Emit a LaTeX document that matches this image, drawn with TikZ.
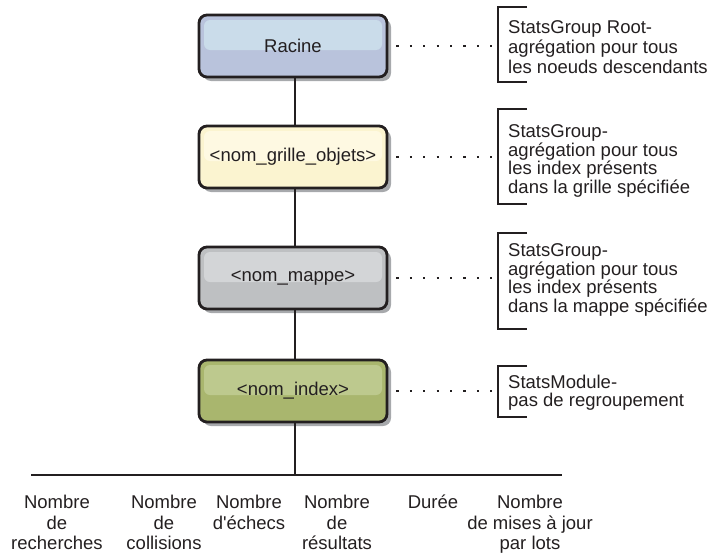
\documentclass[tikz,border=0pt]{standalone}
\usepackage{fontspec}
\setmainfont{Liberation Sans}
\usetikzlibrary{shadows,calc}
\definecolor{ink}{HTML}{231F20}
\definecolor{rootmain}{HTML}{B9C3DC}
\definecolor{roothl}{HTML}{CADCEA}
\definecolor{gridmain}{HTML}{FBF4D0}
\definecolor{gridhl}{HTML}{FEF9E2}
\definecolor{mapmain}{HTML}{BEC0C2}
\definecolor{maphl}{HTML}{D3D5D7}
\definecolor{idxmain}{HTML}{A9B66E}
\definecolor{idxhl}{HTML}{BDC98E}
\definecolor{shadowgrey}{HTML}{A7A9AC}
\begin{document}
\begin{tikzpicture}[x=1pt,y=-1pt,
  txt/.style={font=\fontsize{18.5}{20}\selectfont, text=ink},
  txtb/.style={font=\fontsize{18.5}{18.5}\selectfont, text=ink},
  txtc/.style={font=\fontsize{18.5}{20.5}\selectfont, text=ink},
  catbox/.style 2 args={draw=ink, line width=2.8pt, rounded corners=8pt,
    minimum width=188pt, minimum height=62pt, fill=#1, inner sep=0pt, txt,
    drop shadow={shadow xshift=4pt, shadow yshift=-4pt, fill=shadowgrey, opacity=1},
    path picture={\fill[#2, rounded corners=6pt]
      ($(path picture bounding box.north west)+(5pt,-5pt)$) rectangle
      ($(path picture bounding box.east)+(-5pt,-4pt)$);}},
  conn/.style={draw=ink, line width=2.3pt},
  dotlink/.style={draw=ink, line width=2.2pt, dash pattern=on 2.2pt off 11.2pt},
  brk/.style={draw=ink, line width=2.4pt},
  lbl/.style={txtc, anchor=north, align=center, inner sep=0pt},
  note/.style={anchor=north west, align=left, inner sep=0pt}
]
\useasboundingbox (0,0) rectangle (712,554);

% boxes
\node[catbox={rootmain}{roothl}] (root) at (293,46) {Racine};
\node[catbox={gridmain}{gridhl}] (grid) at (293,157) {<nom\_grille\_objets>};
\node[catbox={mapmain}{maphl}] (map) at (293,278) {<nom\_mappe>};
\node[catbox={idxmain}{idxhl}] (idx) at (293,391) {<nom\_index>};

% tree lines
\coordinate (j) at (295,475);
\coordinate (hl) at (31,475);
\coordinate (hr) at (562,475);
\draw[conn] ([xshift=2pt]root.south) -- ([xshift=2pt]grid.north);
\draw[conn] ([xshift=2pt]grid.south) -- ([xshift=2pt]map.north);
\draw[conn] ([xshift=2pt]map.south) -- ([xshift=2pt]idx.north);
\draw[conn] ([xshift=2pt]idx.south) -- (j);
\draw[conn] (hl) -- (hr);

% brackets
\coordinate (b1) at (498,46);
\coordinate (b2) at (498,157);
\coordinate (b3) at (498,278);
\coordinate (b4) at (498,391);
\draw[brk] (527,7) -| (498,82) -- (527,82);
\draw[brk] (527,109) -| (498,204) -- (527,204);
\draw[brk] (527,233) -| (498,329) -- (527,329);
\draw[brk] (527,366) -| (498,417) -- (527,417);

% dotted links
\draw[dotlink] ([xshift=8pt]root.east) -- (b1);
\draw[dotlink] ([xshift=8pt]grid.east) -- (b2);
\draw[dotlink] ([xshift=8pt]map.east) -- (b3);
\draw[dotlink] ([xshift=8pt]idx.east) -- (b4);

% notes
\node[note, txt] (t1) at (508,20.5) {StatsGroup Root-\\agrégation pour tous\\les noeuds descendants};
\node[note, txtb] (t2) at (508,124.5) {StatsGroup-\\agrégation pour tous\\les index présents\\dans la grille spécifiée};
\node[note, txtb] (t3) at (508,243.5) {StatsGroup-\\agrégation pour tous\\les index présents\\dans la mappe spécifiée};
\node[note, txtb] (t4) at (508,374.5) {StatsModule-\\pas de regroupement};

% bottom labels
\node[lbl] (l1) at (57,495) {Nombre\\de\\recherches};
\node[lbl] (l2) at (164,495) {Nombre\\de\\collisions};
\node[lbl] (l3) at (249,495) {Nombre\\d\textquotesingle échecs};
\node[lbl] (l4) at (337,495) {Nombre\\de\\résultats};
\node[lbl] (l5) at (433,495) {Durée};
\node[lbl] (l6) at (530,495) {Nombre\\de mises à jour\\par lots};
\end{tikzpicture}
\end{document}
